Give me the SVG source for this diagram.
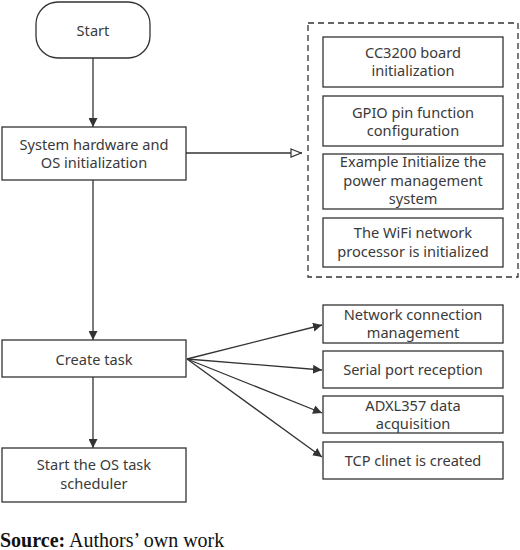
<svg xmlns="http://www.w3.org/2000/svg" width="520" height="550" viewBox="0 0 520 550">
<defs>
<style>
.box{fill:#fff;stroke:#333;stroke-width:1.3}
.dash{fill:none;stroke:#333;stroke-width:1.3;stroke-dasharray:6,4}
.t{font-family:"Noto Sans","Open Sans",sans-serif;font-size:14.6px;fill:#3a3a3a;text-anchor:middle}
.ln{fill:none;stroke:#333;stroke-width:1.3}
.src{font-family:"Liberation Serif","Times New Roman",serif;font-size:20px;fill:#111}
</style>
<marker id="ah" viewBox="0 0 10 10" refX="10" refY="5" markerWidth="9" markerHeight="9" markerUnits="userSpaceOnUse" orient="auto">
<path d="M0,0 L10,5 L0,10 z" fill="#333"/>
</marker>
<marker id="ahOpen" viewBox="0 0 12 10" refX="12" refY="5" markerWidth="12" markerHeight="10" markerUnits="userSpaceOnUse" orient="auto">
<path d="M1,1 L11,5 L1,9 z" fill="#fff" stroke="#333" stroke-width="1.2"/>
</marker>
</defs>
<rect width="520" height="550" fill="#fff"/>
<g id="connectors">
<line class="ln" x1="93" y1="58" x2="93" y2="127" marker-end="url(#ah)"/>
<line class="ln" x1="93" y1="180" x2="93" y2="340" marker-end="url(#ah)"/>
<line class="ln" x1="93" y1="377" x2="93" y2="448" marker-end="url(#ah)"/>
<line class="ln" x1="186" y1="153" x2="302" y2="153" marker-end="url(#ahOpen)"/>
<line class="ln" x1="187" y1="359" x2="322" y2="325" marker-end="url(#ah)"/>
<line class="ln" x1="187" y1="359" x2="322" y2="370" marker-end="url(#ah)"/>
<line class="ln" x1="187" y1="359" x2="322" y2="413" marker-end="url(#ah)"/>
<line class="ln" x1="187" y1="359" x2="322" y2="457" marker-end="url(#ah)"/>
</g>
<g id="start">
<rect class="box" x="36" y="2" width="114" height="56" rx="22"/>
<text class="t" x="93" y="36">Start</text>
</g>
<g id="sys-init">
<rect class="box" x="2" y="127" width="184" height="53"/>
<text class="t" x="94" y="150">System hardware and</text>
<text class="t" x="94" y="168">OS initialization</text>
</g>
<g id="init-group">
<rect class="dash" x="308" y="23" width="210" height="254"/>
</g>
<g id="cc3200">
<rect class="box" x="323" y="37" width="180" height="50"/>
<text class="t" x="413" y="58">CC3200 board</text>
<text class="t" x="413" y="76">initialization</text>
</g>
<g id="gpio">
<rect class="box" x="323" y="96" width="180" height="50"/>
<text class="t" x="413" y="118">GPIO pin function</text>
<text class="t" x="413" y="136">configuration</text>
</g>
<g id="power">
<rect class="box" x="323" y="154" width="180" height="55"/>
<text class="t" x="413" y="167">Example Initialize the</text>
<text class="t" x="413" y="186">power management</text>
<text class="t" x="413" y="204">system</text>
</g>
<g id="wifi">
<rect class="box" x="323" y="218" width="180" height="49"/>
<text class="t" x="413" y="238">The WiFi network</text>
<text class="t" x="413" y="257">processor is initialized</text>
</g>
<g id="create-task">
<rect class="box" x="2" y="340" width="184" height="37"/>
<text class="t" x="94" y="365">Create task</text>
</g>
<g id="scheduler">
<rect class="box" x="2" y="448" width="184" height="54"/>
<text class="t" x="94" y="470">Start the OS task</text>
<text class="t" x="94" y="489">scheduler</text>
</g>
<g id="net-mgmt">
<rect class="box" x="323" y="305" width="180" height="38"/>
<text class="t" x="413" y="320">Network connection</text>
<text class="t" x="413" y="338">management</text>
</g>
<g id="serial">
<rect class="box" x="323" y="351" width="180" height="37"/>
<text class="t" x="413" y="375">Serial port reception</text>
</g>
<g id="adxl">
<rect class="box" x="323" y="396" width="180" height="37"/>
<text class="t" x="413" y="411">ADXL357 data</text>
<text class="t" x="413" y="429">acquisition</text>
</g>
<g id="tcp">
<rect class="box" x="323" y="442" width="180" height="37"/>
<text class="t" x="413" y="466">TCP clinet is created</text>
</g>
<text class="src" x="0" y="547"><tspan font-weight="bold">Source:</tspan> Authors’ own work</text>
</svg>
